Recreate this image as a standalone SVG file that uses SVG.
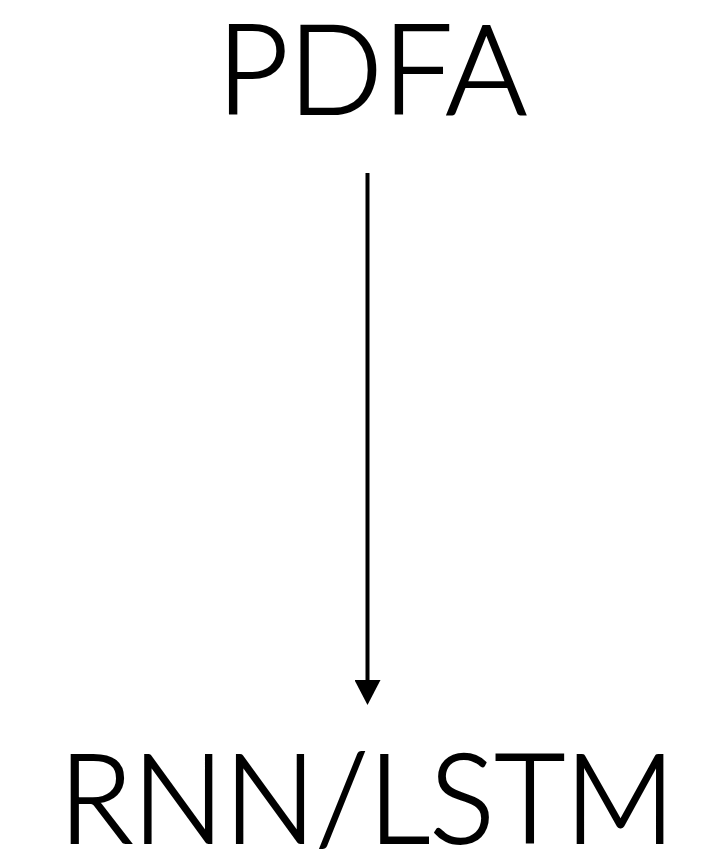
<svg xmlns="http://www.w3.org/2000/svg" width="728" height="861" viewBox="0 0 728 861">
<style>
.lbl{font-family:"Lato","Noto Sans","Liberation Sans",sans-serif;font-size:124px;font-weight:300;fill:#000;stroke:#000;stroke-width:2;stroke-linejoin:miter;}
.edge{stroke:#000;stroke-width:4;fill:none;}
</style>
<defs>
<marker id="ah" markerUnits="userSpaceOnUse" markerWidth="26" markerHeight="26" refX="0" refY="13" orient="auto" viewBox="0 0 26 26">
<path d="M0,0 L25,13 L0,26 Z" fill="#000"/>
</marker>
</defs>
<rect width="728" height="861" fill="#fff"/>
<g id="node-pdfa">
<text class="lbl" x="217" y="114" textLength="310" lengthAdjust="spacingAndGlyphs">PDFA</text>
</g>
<g id="node-rnn">
<text class="lbl" x="59" y="843" textLength="616" lengthAdjust="spacingAndGlyphs">RNN/LSTM</text>
</g>
<g id="connectors">
<line class="edge" x1="367.5" y1="173" x2="367.5" y2="680" marker-end="url(#ah)"/>
</g>
</svg>
